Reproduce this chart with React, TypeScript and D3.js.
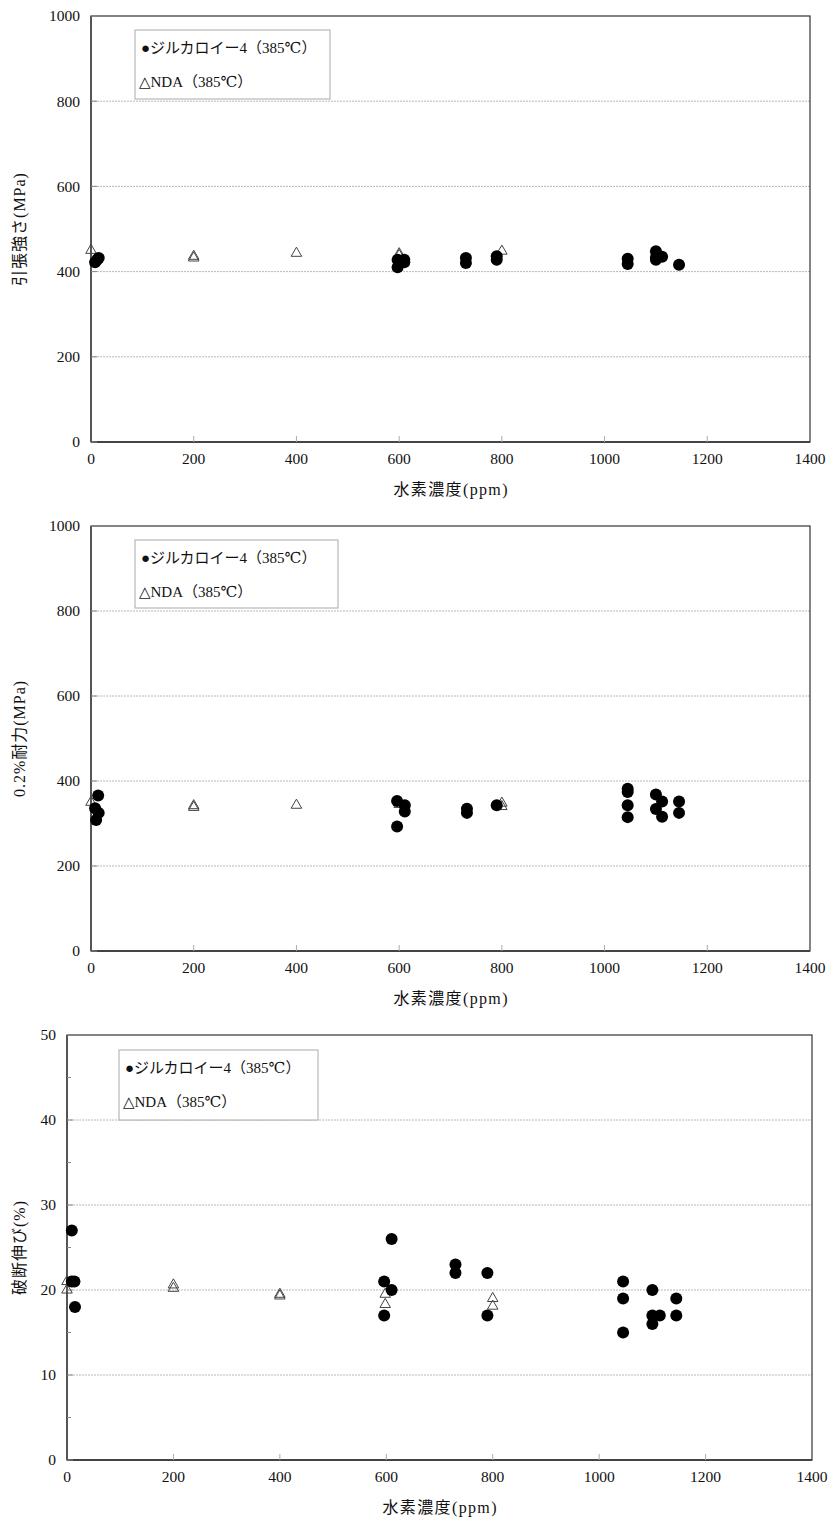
import React from "react";
import * as d3 from "d3";

// ---------- data ----------
const xTicks = [0, 200, 400, 600, 800, 1000, 1200, 1400];
const xTitle = "水素濃度(ppm)";
const legendZr = "●ジルカロイー4（385℃）";
const legendNDA = "△NDA（385℃）";

// Chart 1: tensile strength (MPa)
const tsZrH = [8, 12, 15, 597, 597, 610, 610, 730, 730, 790, 790, 1045, 1045, 1100, 1100, 1100, 1112, 1145];
const tsZrV = [422, 428, 432, 410, 428, 422, 428, 420, 432, 428, 436, 418, 430, 428, 433, 448, 435, 416];
const tsNdaH = [0, 200, 200, 400, 600, 600, 800];
const tsNdaV = [450, 432, 436, 443, 438, 442, 448];
const tsTicks = [0, 200, 400, 600, 800, 1000];

// Chart 2: 0.2% proof stress (MPa)
const psZrH = [14, 8, 15, 10, 596, 611, 611, 596, 732, 732, 790, 1045, 1045, 1045, 1045, 1100, 1100, 1112, 1112, 1145, 1145];
const psZrV = [366, 336, 325, 308, 353, 343, 328, 293, 335, 325, 343, 382, 374, 343, 315, 368, 334, 352, 316, 352, 325];
const psNdaH = [0, 200, 200, 400, 600, 800, 800];
const psNdaV = [350, 338, 342, 343, 345, 348, 340];
const psTicks = [0, 200, 400, 600, 800, 1000];

// Chart 3: elongation (%)
const elZrH = [9, 9, 14, 15, 596, 596, 610, 610, 730, 730, 790, 790, 1045, 1045, 1045, 1100, 1100, 1100, 1114, 1145, 1145];
const elZrV = [27, 21, 21, 18, 21, 17, 26, 20, 23, 22, 22, 17, 21, 19, 15, 20, 17, 16, 17, 19, 17];
const elNdaH = [0, 0, 200, 200, 400, 400, 598, 598, 800, 800];
const elNdaV = [21, 20, 20.6, 20.2, 19.5, 19.3, 19.5, 18.3, 19, 18.1];
const elTicks = [0, 10, 20, 30, 40, 50];
const elMinor = [5, 15, 25, 35, 45];

const FONT = "'Liberation Serif', 'DejaVu Serif', 'Noto Sans CJK JP', serif";

type PanelProps = {
  top: number;
  bottom: number;
  left: number;
  right: number;
  yMax: number;
  yTicks: number[];
  yMinor?: number[];
  yTitle: string;
  zrH: number[];
  zrV: number[];
  ndaH: number[];
  ndaV: number[];
  legend: { x: number; y: number; w: number; h: number };
};

function Panel(p: PanelProps) {
  const x = d3.scaleLinear().domain([0, 1400]).range([p.left, p.right]);
  const y = d3.scaleLinear().domain([0, p.yMax]).range([p.bottom, p.top]);
  const tri = d3.symbol().type(d3.symbolTriangle).size(48)() as string;
  const midY = (p.top + p.bottom) / 2;
  return (
    <g>
      {p.yTicks.filter((t) => t > 0 && t < p.yMax).map((t) => (
        <line key={"g" + t} x1={p.left} x2={p.right} y1={y(t)} y2={y(t)} stroke="#b8b8b8" strokeWidth={1} strokeDasharray="2,1" />
      ))}
      <rect x={p.left} y={p.top} width={p.right - p.left} height={p.bottom - p.top} fill="none" stroke="#333" strokeWidth={1.2} />
      <line x1={p.left} x2={p.left} y1={p.top} y2={p.bottom} stroke="#555" strokeWidth={2} />
      <line x1={p.left} x2={p.right} y1={p.bottom} y2={p.bottom} stroke="#444" strokeWidth={2} />
      {p.yTicks.map((t) => (
        <g key={"yt" + t}>
          <line x1={p.left} x2={p.left + 6} y1={y(t)} y2={y(t)} stroke="#888" />
          <text x={p.left - 11} y={y(t)} dy="0.35em" textAnchor="end" fontSize={15.5} fontFamily={FONT} fill="#111">{t}</text>
        </g>
      ))}
      {(p.yMinor || []).map((t) => (
        <line key={"ym" + t} x1={p.left} x2={p.left + 4} y1={y(t)} y2={y(t)} stroke="#888" />
      ))}
      {xTicks.map((t) => (
        <g key={"xt" + t}>
          {t > 0 && t < 1400 && <line x1={x(t)} x2={x(t)} y1={p.bottom} y2={p.bottom - 6} stroke="#aaa" />}
          <text x={x(t)} y={p.bottom + 22} textAnchor="middle" fontSize={15.5} fontFamily={FONT} fill="#111">{t}</text>
        </g>
      ))}
      <text x={(p.left + p.right) / 2} y={p.bottom + 53} textAnchor="middle" fontSize={16} fontFamily={FONT} fill="#111"
        textLength={114} lengthAdjust="spacing">{xTitle}</text>
      <text transform={`translate(25,${midY}) rotate(-90)`} textAnchor="middle" fontSize={16} fontFamily={FONT} fill="#111"
        letterSpacing={1}>{p.yTitle}</text>
      <rect x={p.legend.x} y={p.legend.y} width={p.legend.w} height={p.legend.h} fill="white" stroke="#aaa" strokeWidth={1} />
      <text x={p.legend.x + 6} y={p.legend.y + 23} fontSize={15} fontFamily={FONT} fill="#111">{legendZr}</text>
      <text x={p.legend.x + 4} y={p.legend.y + 57} fontSize={15} fontFamily={FONT} fill="#111">{legendNDA}</text>
      {p.ndaH.map((h, i) => (
        <path key={"n" + i} d={tri} transform={`translate(${x(h)},${y(p.ndaV[i])})`} fill="none" stroke="#444" strokeWidth={1} />
      ))}
      {p.zrH.map((h, i) => (
        <circle key={"z" + i} cx={x(h)} cy={y(p.zrV[i])} r={6} fill="#000" />
      ))}
    </g>
  );
}

export default function App() {
  return (
    <svg width={835} height={1524} style={{ display: "block", position: "absolute", left: 0, top: 0, background: "white" }}>
      <rect width={835} height={1524} fill="white" />
      <Panel top={16} bottom={442} left={91} right={810} yMax={1000} yTicks={tsTicks} yTitle="引張強さ(MPa)"
        zrH={tsZrH} zrV={tsZrV} ndaH={tsNdaH} ndaV={tsNdaV} legend={{ x: 135, y: 30, w: 195, h: 69 }} />
      <Panel top={526} bottom={951} left={91} right={810} yMax={1000} yTicks={psTicks} yTitle="0.2%耐力(MPa)"
        zrH={psZrH} zrV={psZrV} ndaH={psNdaH} ndaV={psNdaV} legend={{ x: 135, y: 540, w: 203, h: 68 }} />
      <Panel top={1035} bottom={1460} left={67} right={812} yMax={50} yTicks={elTicks} yMinor={elMinor} yTitle="破断伸び(%)"
        zrH={elZrH} zrV={elZrV} ndaH={elNdaH} ndaV={elNdaV} legend={{ x: 119, y: 1050, w: 199, h: 70 }} />
    </svg>
  );
}
